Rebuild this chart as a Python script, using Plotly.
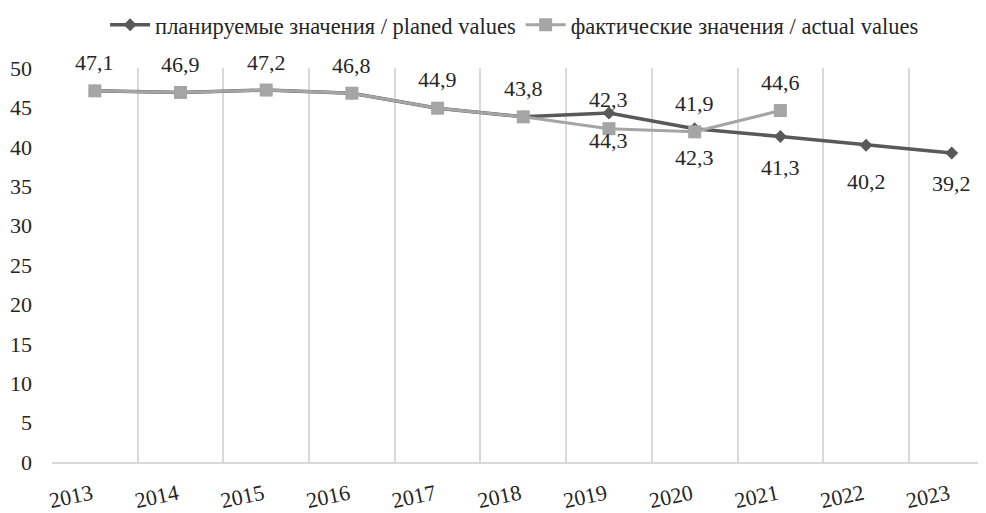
import plotly.graph_objects as go

years = ["2013", "2014", "2015", "2016", "2017", "2018", "2019", "2020", "2021", "2022", "2023"]
planned = [47.1, 46.9, 47.2, 46.8, 44.9, 43.8, 44.3, 42.3, 41.3, 40.2, 39.2]
actual = [47.1, 46.9, 47.2, 46.8, 44.9, 43.8, 42.3, 41.9, 44.6]
planned_labels = ["", "", "", "", "", "", "42,3", "41,9", "41,3", "40,2", "39,2"]
actual_labels = ["47,1", "46,9", "47,2", "46,8", "44,9", "43,8", "44,3", "42,3", "44,6"]

# label offsets in pixels (style, not data)
planned_shift = [0, 0, 0, 0, 0, 0, 13, 25, -31, -36, -30]
actual_shift = [28, 28, 28, 28, 29, 28, -12, -26, 28]

FONT = "Liberation Serif, Times New Roman, serif"
TXT = "#262626"
FS = 22

fig = go.Figure()
fig.add_trace(go.Scatter(
    x=years, y=planned, name="планируемые значения / planed values",
    mode="lines+markers",
    line=dict(color="#595959", width=3.5),
    marker=dict(symbol="diamond", size=10, color="#595959"),
    cliponaxis=False,
))
fig.add_trace(go.Scatter(
    x=years[:len(actual)], y=actual, name="фактические значения / actual values",
    mode="lines+markers",
    line=dict(color="#a5a5a5", width=3),
    marker=dict(symbol="square", size=13, color="#a5a5a5"),
    cliponaxis=False,
))

for i in range(len(planned)):
    if planned_labels[i]:
        fig.add_annotation(x=i, y=planned[i], xref="x", yref="y",
                           text=planned_labels[i], showarrow=False,
                           yshift=planned_shift[i], xanchor="center", yanchor="middle",
                           font=dict(family=FONT, size=FS, color=TXT))
for i in range(len(actual)):
    if actual_labels[i]:
        fig.add_annotation(x=i, y=actual[i], xref="x", yref="y",
                           text=actual_labels[i], showarrow=False,
                           yshift=actual_shift[i], xanchor="center", yanchor="middle",
                           font=dict(family=FONT, size=FS, color=TXT))

fig.update_layout(
    width=978, height=505,
    margin=dict(l=44, r=0, t=60, b=51, autoexpand=False),
    paper_bgcolor="white", plot_bgcolor="white",
    font=dict(family=FONT, size=FS, color=TXT),
    showlegend=True,
    legend=dict(orientation="h", x=0.518, xanchor="center", xref="container",
                y=0.966, yanchor="middle", yref="container",
                font=dict(family=FONT, size=22.5, color=TXT),
                itemwidth=40, traceorder="normal"),
    xaxis=dict(type="category", categoryorder="array", categoryarray=years,
               range=[-0.5, 10.4], tickson="boundaries", showgrid=True,
               gridcolor="#d9d9d9", gridwidth=1.5, ticks="", tickangle=-12,
               showline=True, linecolor="#d9d9d9", linewidth=2, automargin=False,
               tickfont=dict(family=FONT, size=FS, color=TXT),
               ticklabelstandoff=9, ticklabelshift=-3),
    yaxis=dict(range=[0, 50], dtick=5, showgrid=False, zeroline=False, showline=False,
               ticks="", automargin=False,
               tickfont=dict(family=FONT, size=FS, color=TXT), ticklabelstandoff=19),
)

fig.write_html("out.html")
